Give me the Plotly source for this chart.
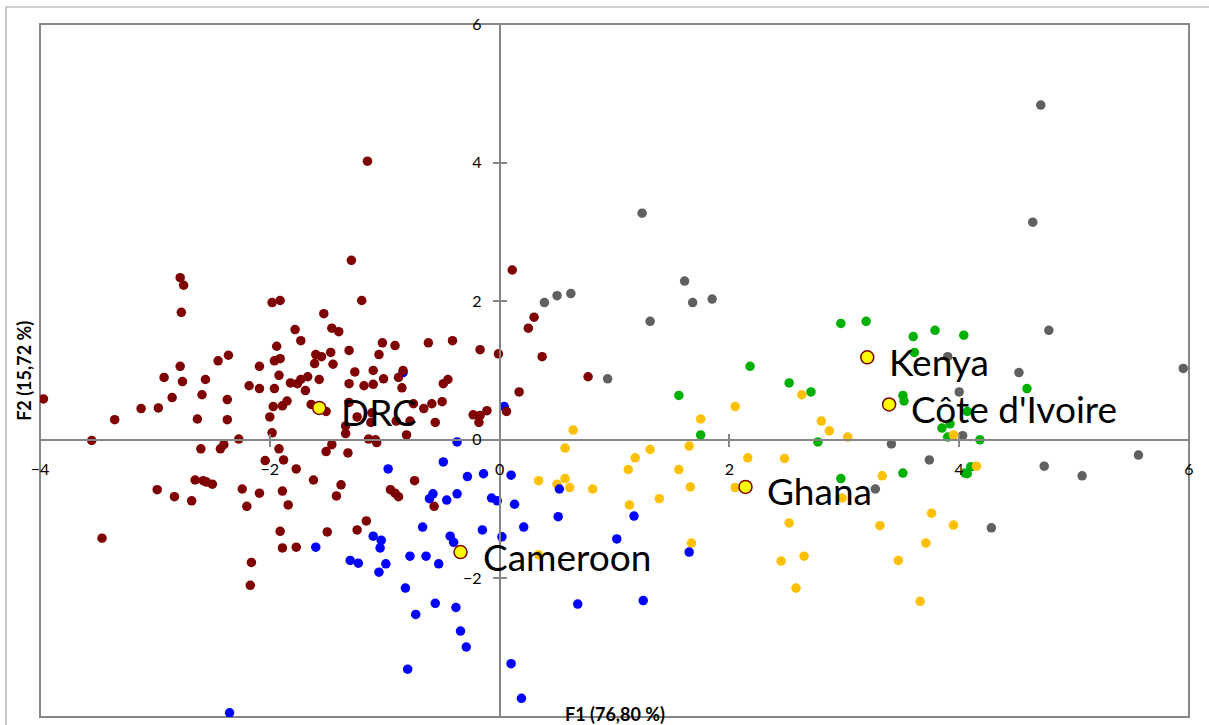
import plotly.graph_objects as go

# ---------------- data (F1, F2 scores) ----------------
drc_x = [-1.15, -1.29, -2.78, -2.75, -2.77, -1.98, -1.91, -1.20, -1.53, -1.78, -1.46, -1.40, -1.73, -1.94,
         -1.02, -0.91, -1.31, -1.47, -1.60, -1.55, -1.05, -2.36, -2.45, -1.91,
         -2.78, -2.92, -2.76, -2.56, -2.09, -2.18, -2.09, -3.97, -3.35, -3.12, -2.97, -2.85, -2.59, -2.37,
         -2.37, -2.63, -2.27, -3.55, -2.60, -2.43, -2.40,
         -1.98, -2.04, -1.92, -2.65, -2.58, -2.55, -2.50, -2.98, -2.83, -2.68, -2.24, -2.09, -2.20, -3.46,
         -2.16, -2.17,
         -1.96, -1.92, -1.96, -2.00, -1.97, -1.89, -1.85, -1.82, -1.76, -1.73, -1.67, -1.69, -1.61, -1.57,
         -1.45, -1.64, -1.51, -1.88, -1.77, -1.62, -1.46, -1.51, -1.38, -1.42, -1.32, -1.34, -1.34, -1.31,
         -1.26, -1.18, -1.10, -1.10, -1.01, -1.14, -1.08, -1.07, -1.12, -1.31, -1.16, -1.24, -1.50, -1.91,
         -1.89, -1.77, -1.84, -1.89, -0.95, -0.91, -0.88,
         0.11, -0.62, -0.41, -0.17, -0.01, -0.84, -0.88, -0.85, -0.49, -0.45, 0.17, -0.75, -0.59, -0.50,
         -0.66, -1.24, -1.11, -0.90, -0.78, -0.56, -0.81, -0.23, -0.17, -0.11, -0.18, 0.06,
         0.30, 0.25, 0.37, 0.77, -0.74, -0.57]
drc_y = [4.02, 2.59, 2.34, 2.23, 1.84, 1.98, 2.01, 2.01, 1.82, 1.59, 1.61, 1.56, 1.43, 1.35,
         1.40, 1.36, 1.29, 1.26, 1.23, 1.20, 1.23, 1.22, 1.14, 1.17,
         1.06, 0.90, 0.84, 0.87, 1.06, 0.78, 0.74, 0.59, 0.29, 0.45, 0.46, 0.61, 0.65, 0.58,
         0.29, 0.30, 0.01, -0.01, -0.13, -0.13, -0.07,
         0.10, -0.30, -0.13, -0.58, -0.59, -0.61, -0.64, -0.72, -0.82, -0.88, -0.71, -0.77, -0.96, -1.42,
         -1.77, -2.10,
         0.74, 0.93, 1.14, 0.33, 0.48, 0.49, 0.56, 0.82, 0.81, 0.87, 0.91, 0.71, 1.10, 0.87,
         1.09, 0.51, 0.41, -0.29, -0.42, -0.58, -0.07, -0.17, -0.65, -0.81, -0.19, 0.09, 0.20, 0.81,
         0.98, 0.78, 1.00, 0.80, 0.88, 0.01, 0.00, -0.04, 0.25, 0.54, -1.17, -1.30, -1.33, -1.32,
         -1.56, -1.55, -0.94, -0.74, -0.72, -0.77, -0.82,
         2.45, 1.40, 1.43, 1.30, 1.24, 1.00, 0.90, 0.75, 0.81, 0.87, 0.69, 0.52, 0.52, 0.55,
         0.45, 0.33, 0.39, 0.27, 0.27, 0.25, 0.07, 0.36, 0.35, 0.42, 0.25, 0.41,
         1.77, 1.61, 1.20, 0.91, -0.59, -0.96]

cam_x = [-0.97, -1.60, -1.10, -1.03, -1.04, -1.30, -1.23, -0.99, -1.05, -2.35, -0.84, 0.04, -0.37,
         -0.49, -0.28, -0.14, 0.10, 0.52, 0.51, 1.17, 1.02, 1.65, 0.68, 1.25, -0.37, -0.58, -0.61,
         -0.46, -0.07, -0.02, 0.13, 0.21, 0.02, -0.15, -0.67, -0.43, -0.40, -0.78, -0.64, -0.53,
         -0.82, -0.56, -0.38, -0.73, -0.34, -0.29, -0.80, 0.10, 0.19]
cam_y = [-0.42, -1.55, -1.39, -1.45, -1.56, -1.74, -1.78, -1.79, -1.91, -3.94, 0.97, 0.48, -0.03,
         -0.32, -0.53, -0.49, -0.51, -0.71, -1.11, -1.10, -1.43, -1.62, -2.37, -2.32, -0.78, -0.78, -0.85,
         -0.87, -0.84, -0.88, -0.93, -1.26, -1.40, -1.30, -1.26, -1.39, -1.48, -1.68, -1.68, -1.79,
         -2.14, -2.36, -2.42, -2.52, -2.76, -2.99, -3.31, -3.23, -3.73]

gha_x = [0.64, 0.57, 1.18, 1.31, 1.65, 1.75, 2.05, 2.16, 2.48, 2.63, 2.80, 2.87, 3.03, 0.34, 0.50,
         0.57, 0.61, 0.81, 0.34, 1.12, 1.13, 1.39, 1.56, 1.66, 1.67, 2.05, 2.52, 2.45, 2.58, 3.95,
         4.15, 3.33, 2.98, 3.76, 3.95, 3.31, 3.71, 2.65, 3.47, 3.66]
gha_y = [0.14, -0.12, -0.26, -0.14, -0.09, 0.30, 0.48, -0.26, -0.27, 0.65, 0.27, 0.13, 0.04, -0.59, -0.64,
         -0.56, -0.69, -0.71, -1.66, -0.43, -0.94, -0.85, -0.43, -0.68, -1.49, -0.69, -1.20, -1.75, -2.14, 0.07,
         -0.38, -0.52, -0.84, -1.06, -1.23, -1.24, -1.49, -1.68, -1.74, -2.33]

ken_x = [2.97, 2.18, 2.52, 2.71, 1.56, 1.75, 2.77, 3.51, 3.52, 4.59, 4.07, 3.85, 3.92, 3.90, 4.18,
         3.51, 2.97, 4.05, 4.07, 4.10, 3.19, 3.60, 3.79, 4.04, 3.61]
ken_y = [1.68, 1.06, 0.82, 0.69, 0.64, 0.07, -0.03, 0.64, 0.56, 0.74, 0.41, 0.17, 0.23, 0.04, 0.00,
         -0.48, -0.56, -0.48, -0.49, -0.39, 1.71, 1.49, 1.58, 1.51, 1.26]

civ_x = [1.24, 0.39, 0.50, 0.62, 1.61, 1.68, 1.85, 1.31, 0.94, 4.52, 5.95, 4.00, 4.03, 3.41, 3.74,
         4.74, 5.07, 5.56, 4.28, 3.27, 4.71, 4.64, 4.78, 3.90]
civ_y = [3.27, 1.98, 2.08, 2.11, 2.29, 1.98, 2.03, 1.71, 0.88, 0.97, 1.03, 0.69, 0.06, -0.06, -0.29,
         -0.38, -0.52, -0.22, -1.27, -0.71, 4.83, 3.14, 1.58, 1.20]

centroid_names = ["DRC", "Cameroon", "Ghana", "Kenya", "Côte d'Ivoire"]
centroid_x = [-1.57, -0.34, 2.14, 3.20, 3.39]
centroid_y = [0.46, -1.62, -0.68, 1.19, 0.51]

tick_vals = [-4, -2, 0, 2, 4, 6]
x_title = "F1 (76,80 %)"
y_title = "F2 (15,72 %)"

# ---------------- figure ----------------
FONT = "Lato"
AXIS_GRAY = "#868686"

fig = go.Figure()
groups = [
    (ken_x, ken_y, "#00B000"),
    (civ_x, civ_y, "#606060"),
    (gha_x, gha_y, "#FFC000"),
    (cam_x, cam_y, "#0000FF"),
    (drc_x, drc_y, "#7F0000"),
]
for gx, gy, col in groups:
    fig.add_trace(go.Scatter(x=gx, y=gy, mode="markers",
                             marker=dict(size=9.5, color=col, line=dict(width=0)),
                             hoverinfo="skip"))

fig.add_trace(go.Scatter(x=centroid_x, y=centroid_y, mode="markers",
                         marker=dict(size=13, color="#FFFF00", line=dict(width=1.5, color="#7F0000")),
                         hoverinfo="skip"))

# dummy trace for the overlay axes (inner half of the cross ticks)
fig.add_trace(go.Scatter(x=[None], y=[None], xaxis="x2", yaxis="y2", mode="markers",
                         hoverinfo="skip"))

for name, cx, cy in zip(centroid_names, centroid_x, centroid_y):
    fig.add_annotation(x=cx, y=cy, xref="x", yref="y", text=name, showarrow=False,
                       xanchor="left", yanchor="middle", xshift=20, yshift=-4,
                       font=dict(family=FONT, size=37, color="black"))

fig.add_annotation(x=0.5, y=0.004, xref="paper", yref="paper", text="<b>" + x_title + "</b>",
                   showarrow=False, xanchor="center", yanchor="middle",
                   font=dict(family=FONT, size=18, color="black"))
fig.add_annotation(x=-0.0145, y=0.5, xref="paper", yref="paper", text="<b>" + y_title + "</b>",
                   showarrow=False, xanchor="center", yanchor="middle", textangle=-90,
                   font=dict(family=FONT, size=18, color="black"))

axis_common = dict(anchor="free", position=0.4, showline=True, linecolor=AXIS_GRAY,
                   linewidth=1.5, ticks="outside", ticklen=6, tickwidth=1.5, tickcolor=AXIS_GRAY,
                   tickvals=tick_vals, showgrid=False, zeroline=False,
                   tickfont=dict(family=FONT, size=16, color="black"))

fig.update_layout(
    width=1209, height=725,
    margin=dict(l=40, r=20, t=24, b=8),
    paper_bgcolor="white", plot_bgcolor="white",
    showlegend=False,
    xaxis=dict(axis_common, range=[-4, 6], ticklabelstandoff=9),
    yaxis=dict(axis_common, range=[-4, 6], ticklabelstandoff=8),
    xaxis2=dict(range=[-4, 6], overlaying="x", anchor="free", position=0.4, showline=False,
                ticks="inside", ticklen=6, tickwidth=1.5, tickcolor=AXIS_GRAY, tickvals=tick_vals,
                showticklabels=False, showgrid=False, zeroline=False),
    yaxis2=dict(range=[-4, 6], overlaying="y", anchor="free", position=0.4, showline=False,
                ticks="inside", ticklen=6, tickwidth=1.5, tickcolor=AXIS_GRAY, tickvals=tick_vals,
                showticklabels=False, showgrid=False, zeroline=False),
    shapes=[
        dict(type="rect", xref="paper", yref="paper", x0=0, x1=1, y0=0, y1=1,
             line=dict(color=AXIS_GRAY, width=2), layer="below"),
        dict(type="rect", xref="paper", yref="paper", x0=-0.0296, x1=1.05, y0=-0.05, y1=1.0245,
             line=dict(color="#A6A6A6", width=1.2), layer="below"),
    ],
)

fig.write_html("out.html")
